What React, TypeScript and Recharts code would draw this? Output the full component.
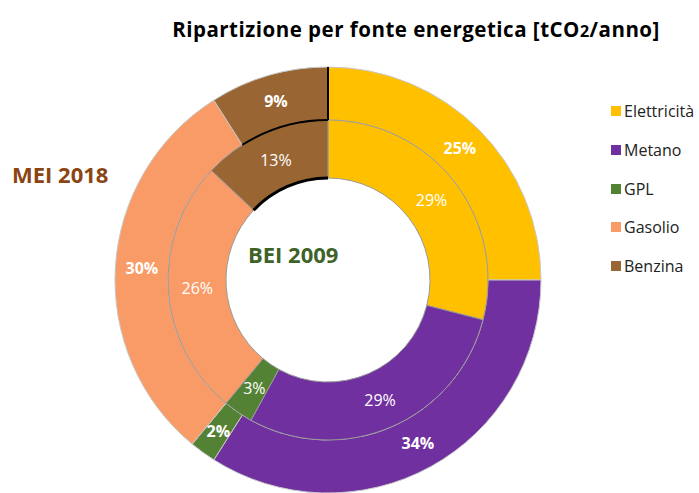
import { PieChart, Pie, Cell, Legend } from "recharts"

const categories = ["Elettricità", "Metano", "GPL", "Gasolio", "Benzina"]
const bei2009 = [29, 29, 3, 26, 13]
const mei2018 = [25, 34, 2, 30, 9]
const colors = ["#FFC000", "#7030A0", "#548235", "#F99B66", "#996633"]

const innerData = categories.map((name, i) => ({ name, value: bei2009[i] }))
const outerData = categories.map((name, i) => ({ name, value: mei2018[i] }))

const RADIAN = Math.PI / 180
const FONT = "'Open Sans', sans-serif"

const pt = (cx: number, cy: number, r: number, a: number) => [
  cx + r * Math.cos(-a * RADIAN),
  cy + r * Math.sin(-a * RADIAN),
]

// arc path at radius r between two recharts angles
function arcPath(cx: number, cy: number, r: number, a1: number, a2: number) {
  const [x1, y1] = pt(cx, cy, r, a1)
  const [x2, y2] = pt(cx, cy, r, a2)
  const large = Math.abs(a2 - a1) > 180 ? 1 : 0
  const sweep = a2 > a1 ? 0 : 1
  return `M${x1},${y1} A${r},${r} 0 ${large} ${sweep} ${x2},${y2}`
}

function makeLabel(outer: boolean) {
  return (props: any) => {
    const { cx, cy, midAngle, innerRadius, outerRadius, value, index, startAngle, endAngle } = props
    const r = (innerRadius + outerRadius) / 2
    const [x, y] = pt(cx, cy, r, midAngle)
    const last = index === categories.length - 1
    let mark = null
    if (last && outer) {
      const [ax, ay] = pt(cx, cy, innerRadius, endAngle)
      const [bx, by] = pt(cx, cy, outerRadius, endAngle)
      mark = (
        <g fill="none" stroke="#000">
          <path d={arcPath(cx, cy, innerRadius, startAngle, endAngle)} strokeWidth={2} />
          <path d={`M${ax},${ay} L${bx},${by}`} strokeWidth={2} />
        </g>
      )
    } else if (last) {
      mark = (
        <path
          d={arcPath(cx, cy, innerRadius, startAngle, endAngle)}
          fill="none"
          stroke="#000"
          strokeWidth={3}
        />
      )
    }
    return (
      <g>
        {mark}
        <text
          x={x}
          y={y}
          fill="#ffffff"
          textAnchor="middle"
          dominantBaseline="central"
          fontSize={16}
          fontWeight={outer ? 700 : 400}
          fontFamily={FONT}
        >
          {`${value}%`}
        </text>
      </g>
    )
  }
}

function LegendList() {
  return (
    <div style={{ fontFamily: FONT, fontSize: 16, color: "#222" }}>
      {categories.map((c, i) => (
        <div key={c} style={{ display: "flex", alignItems: "center", height: 38.7 }}>
          <span style={{ width: 10, height: 10, background: colors[i], marginRight: 3 }} />
          {c}
        </div>
      ))}
    </div>
  )
}

export default function App() {
  return (
    <div style={{ position: "absolute", left: 0, top: 0, width: 699, height: 493, background: "#fff" }}>
      <PieChart width={699} height={493} margin={{ top: 0, right: 0, bottom: 0, left: 0 }}>
        <Pie
          data={outerData}
          dataKey="value"
          cx={328}
          cy={280}
          innerRadius={160}
          outerRadius={213}
          startAngle={90}
          endAngle={-270}
          stroke="#c8c8c8"
          strokeWidth={1}
          label={makeLabel(true)}
          labelLine={false}
          isAnimationActive={false}
        >
          {outerData.map((d, i) => (
            <Cell key={d.name} fill={colors[i]} />
          ))}
        </Pie>
        <Pie
          data={innerData}
          dataKey="value"
          cx={328}
          cy={280}
          innerRadius={102}
          outerRadius={160}
          startAngle={90}
          endAngle={-270}
          stroke="#9a9a9a"
          strokeWidth={1}
          label={makeLabel(false)}
          labelLine={false}
          isAnimationActive={false}
        >
          {innerData.map((d, i) => (
            <Cell key={d.name} fill={colors[i]} />
          ))}
        </Pie>
        <Legend
          layout="vertical"
          verticalAlign="top"
          align="right"
          content={() => <LegendList />}
          wrapperStyle={{ left: 611, top: 92, width: 90 }}
        />
      </PieChart>
      <div
        style={{
          position: "absolute",
          left: 150,
          top: 15,
          width: 532,
          textAlign: "center",
          fontFamily: FONT,
          fontWeight: 700,
          fontSize: 20.5,
          letterSpacing: 0.5,
          color: "#000",
          whiteSpace: "nowrap",
        }}
      >
        Ripartizione per fonte energetica [tCO<span style={{ fontSize: 16 }}>2</span>/anno]
      </div>
      <div
        style={{
          position: "absolute",
          left: 12,
          top: 159,
          fontFamily: FONT,
          fontWeight: 700,
          fontSize: 22,
          color: "#8B4513",
        }}
      >
        MEI 2018
      </div>
      <div
        style={{
          position: "absolute",
          left: 248,
          top: 239,
          fontFamily: FONT,
          fontWeight: 700,
          fontSize: 22,
          color: "#3E6328",
        }}
      >
        BEI 2009
      </div>
    </div>
  )
}
